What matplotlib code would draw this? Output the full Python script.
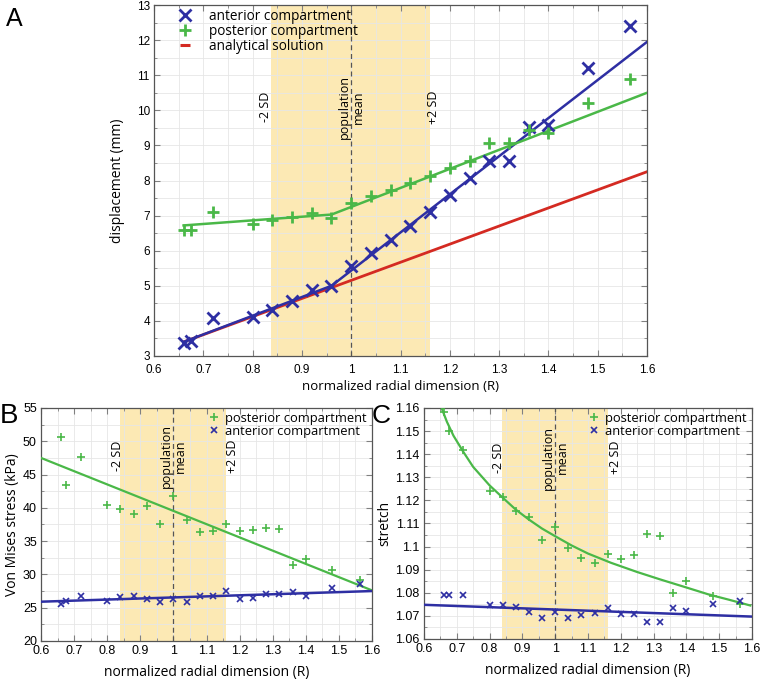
import matplotlib
matplotlib.use("Agg")
import matplotlib.pyplot as plt
from matplotlib.ticker import MultipleLocator

# ---- data --------------------------------------------------------------
R = [0.66, 0.675, 0.72, 0.80, 0.84, 0.88, 0.92, 0.96, 1.00, 1.04, 1.08,
     1.12, 1.16, 1.20, 1.24, 1.28, 1.32, 1.36, 1.40, 1.48, 1.565]

# panel A: displacement (mm)
disp_ant = [3.37, 3.42, 4.07, 4.11, 4.30, 4.58, 4.88, 5.00, 5.56, 5.94, 6.31,
            6.70, 7.10, 7.60, 8.07, 8.55, 8.55, 9.53, 9.58, 11.20, 12.40]
disp_post = [6.60, 6.60, 7.11, 6.77, 6.87, 6.97, 7.08, 6.93, 7.36, 7.55, 7.72,
             7.93, 8.14, 8.37, 8.57, 9.07, 9.07, 9.44, 9.36, 10.20, 10.89]
disp_ant_fit_x = [0.66, 0.96, 1.6]
disp_ant_fit_y = [3.40, 5.00, 11.95]
disp_post_fit_x = [0.66, 0.96, 1.6]
disp_post_fit_y = [6.72, 7.03, 10.50]
disp_analytic_x = [0.66, 1.6]
disp_analytic_y = [3.40, 8.25]

# panel B: von Mises stress (kPa)
vm_post = [50.6, 43.4, 47.7, 40.5, 39.9, 39.1, 40.3, 37.6, 41.8, 38.1, 36.3,
           36.5, 37.5, 36.5, 36.6, 36.9, 36.8, 31.4, 32.3, 30.6, 29.1]
vm_ant = [25.5, 26.0, 26.7, 26.0, 26.6, 26.8, 26.3, 25.8, 26.3, 25.9, 26.8,
          26.7, 27.5, 26.3, 26.5, 27.0, 27.0, 27.3, 26.8, 27.9, 28.6]
vm_post_fit_x = [0.6, 1.6]
vm_post_fit_y = [47.5, 27.6]
vm_ant_fit_x = [0.6, 1.6]
vm_ant_fit_y = [25.9, 27.5]

# panel C: stretch
st_post = [1.1584, 1.1502, 1.1417, 1.1242, 1.1213, 1.1154, 1.1129, 1.1029,
           1.1084, 1.0993, 1.0950, 1.0931, 1.0969, 1.0945, 1.0963, 1.1055,
           1.1047, 1.0797, 1.0850, 1.0785, 1.0750]
st_ant = [1.0792, 1.0792, 1.0790, 1.0748, 1.0748, 1.0740, 1.0716, 1.0693,
          1.0716, 1.0693, 1.0702, 1.0714, 1.0733, 1.0708, 1.0710, 1.0674,
          1.0674, 1.0736, 1.0720, 1.0752, 1.0766]
st_post_fit_x = [0.655, 0.67, 0.69, 0.72, 0.75, 0.80, 0.84, 0.88, 0.92, 0.96,
                 1.00, 1.05, 1.10, 1.17, 1.25, 1.32, 1.40, 1.47, 1.53, 1.595]
st_post_fit_y = [1.1595, 1.1540, 1.1480, 1.1410, 1.1345, 1.1265, 1.1212,
                 1.1160, 1.1117, 1.1078, 1.1045, 1.1005, 1.0970, 1.0930,
                 1.0890, 1.0858, 1.0823, 1.0792, 1.0770, 1.0745]
st_ant_fit_x = [0.6, 1.6]
st_ant_fit_y = [1.0748, 1.0697]

sd_lo, sd_hi, pop_mean = 0.838, 1.16, 1.0

BLUE = "#2e2fa3"
GREEN = "#4ab848"
RED = "#d42a22"
SHADE = "#fce9b4"
LBL = ["Open Sans", "DejaVu Sans"]
TCK = "Liberation Sans"

fig = plt.figure(figsize=(7.62, 6.8), dpi=100)
axA = fig.add_axes([0.2021, 0.4765, 0.647, 0.5161])
axB = fig.add_axes([0.0538, 0.0574, 0.4344, 0.3426])
axC = fig.add_axes([0.5564, 0.0603, 0.4304, 0.3397])


def style(ax, ylo, yhi, ymaj, tfs, xpad=3):
    ax.set_xlim(0.6, 1.6)
    ax.set_ylim(ylo, yhi)
    ax.xaxis.set_major_locator(MultipleLocator(0.1))
    ax.xaxis.set_minor_locator(MultipleLocator(0.05))
    ax.yaxis.set_major_locator(MultipleLocator(ymaj))
    ax.yaxis.set_minor_locator(MultipleLocator(ymaj / 2))
    ax.grid(True, which="both", color="#e6e6e6", lw=0.6)
    ax.set_axisbelow(True)
    ax.tick_params(which="both", direction="in", top=True, right=True,
                   color="#808080", labelsize=tfs, pad=3)
    ax.tick_params(axis="x", pad=xpad)
    ax.tick_params(which="major", length=4)
    ax.tick_params(which="minor", length=2.5)
    for lab in ax.get_xticklabels() + ax.get_yticklabels():
        lab.set_family(TCK)
    for s in ax.spines.values():
        s.set_color("#555555")
        s.set_linewidth(0.9)
    ax.axvspan(sd_lo, sd_hi, color=SHADE, lw=0, zorder=0.5)
    ax.axvline(pop_mean, color="#555555", lw=0.9, ls=(0, (4, 3)), zorder=1)
    ax.xaxis.set_major_formatter(plt.FuncFormatter(lambda v, p: f"{v:g}"))
    ax.yaxis.set_major_formatter(plt.FuncFormatter(lambda v, p: f"{v:g}"))


def sd_text(ax, y, xlo, xhi, fs=9):
    kw = dict(rotation=90, ha="center", va="center", family=LBL, fontsize=fs)
    ax.text(xlo, y, "-2 SD", **kw)
    ax.text(pop_mean, y, "population\nmean", linespacing=1.1, **kw)
    ax.text(xhi, y, "+2 SD", **kw)


# ---- panel A ----
style(axA, 3, 13, 1, 8.5, xpad=6)
axA.plot(disp_analytic_x, disp_analytic_y, color=RED, lw=2, zorder=2)
axA.plot(disp_ant_fit_x, disp_ant_fit_y, color=BLUE, lw=1.8, zorder=3)
axA.plot(disp_post_fit_x, disp_post_fit_y, color=GREEN, lw=1.8, zorder=3)
axA.plot(R, disp_ant, ls="none", marker="x", ms=8, mew=2, color=BLUE,
         label="anterior compartment", zorder=4)
axA.plot(R, disp_post, ls="none", marker="+", ms=8, mew=2, color=GREEN,
         label="posterior compartment", zorder=4)
axA.plot([], [], ls="none", marker="_", ms=7, mew=2.2, color=RED,
         label="analytical solution")
sd_text(axA, 10.1, 0.826, 1.166)
axA.legend(loc="upper left", bbox_to_anchor=(0.035, 1.005), frameon=False,
           prop={"family": LBL, "size": 9.8}, handlelength=1.2,
           handletextpad=1.2, labelspacing=0.0, borderaxespad=0)
axA.set_ylabel("displacement (mm)", family=LBL, fontsize=10, labelpad=8)
axA.set_xlabel("normalized radial dimension (R)", family=LBL, fontsize=9.5,
               labelpad=3)
fig.text(0.008, 0.962, "A", fontsize=18, family=TCK)

# ---- panel B ----
style(axB, 20, 55, 5, 9)
axB.plot(vm_post_fit_x, vm_post_fit_y, color=GREEN, lw=1.6, zorder=3)
axB.plot(vm_ant_fit_x, vm_ant_fit_y, color=BLUE, lw=1.8, zorder=3)
axB.plot(R, vm_post, ls="none", marker="+", ms=6, mew=1.2, color=GREEN,
         label="posterior compartment", zorder=4)
axB.plot(R, vm_ant, ls="none", marker="x", ms=5, mew=1.2, color=BLUE,
         label="anterior compartment", zorder=4)
sd_text(axB, 47.8, 0.83, 1.18)
axB.legend(loc="upper right", bbox_to_anchor=(1.0, 1.005), frameon=False,
           prop={"family": LBL, "size": 9.3}, handlelength=0.8,
           handletextpad=0.5, labelspacing=0.0, borderaxespad=0)
axB.set_ylabel("Von Mises stress (kPa)", family=LBL, fontsize=10, labelpad=2)
axB.set_xlabel("normalized radial dimension (R)", family=LBL, fontsize=10,
               labelpad=6)
fig.text(0.0, 0.378, "B", fontsize=20, family=TCK)

# ---- panel C ----
style(axC, 1.06, 1.16, 0.01, 9)
axC.plot(st_post_fit_x, st_post_fit_y, color=GREEN, lw=1.6, zorder=3)
axC.plot(st_ant_fit_x, st_ant_fit_y, color=BLUE, lw=1.8, zorder=3)
axC.plot(R, st_post, ls="none", marker="+", ms=6, mew=1.2, color=GREEN,
         label="posterior compartment", zorder=4)
axC.plot(R, st_ant, ls="none", marker="x", ms=5, mew=1.2, color=BLUE,
         label="anterior compartment", zorder=4)
sd_text(axC, 1.1385, 0.826, 1.185)
axC.legend(loc="upper right", bbox_to_anchor=(1.0, 1.005), frameon=False,
           prop={"family": LBL, "size": 9.3}, handlelength=0.8,
           handletextpad=0.5, labelspacing=0.0, borderaxespad=0)
axC.set_ylabel("stretch", family=LBL, fontsize=10, labelpad=2)
axC.set_xlabel("normalized radial dimension (R)", family=LBL, fontsize=10,
               labelpad=6)
fig.text(0.488, 0.378, "C", fontsize=19, family=TCK)

fig.savefig("out.png", dpi=100, facecolor="white")
